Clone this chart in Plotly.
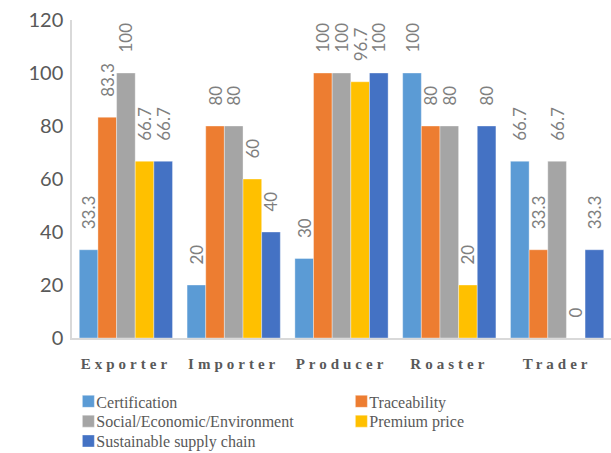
import plotly.graph_objects as go

categories = ["Exporter", "Importer", "Producer", "Roaster", "Trader"]
series_names = ["Certification", "Traceability", "Social/Economic/Environment",
                "Premium price", "Sustainable supply chain"]
certification = [33.3, 20, 30, 100, 66.7]
traceability = [83.3, 80, 100, 80, 33.3]
social = [100, 80, 100, 80, 66.7]
premium = [66.7, 60, 96.7, 20, 0]
sustainable = [66.7, 40, 100, 80, 33.3]
y_ticks = [0, 20, 40, 60, 80, 100, 120]

colors = ["#5B9BD5", "#ED7D31", "#A5A5A5", "#FFC000", "#4472C4"]
values = [certification, traceability, social, premium, sustainable]

NB = "\u00a0"
fig = go.Figure()
for name, vals, col in zip(series_names, values, colors):
    fig.add_trace(go.Bar(
        name=name, x=categories, y=vals,
        marker=dict(color=col, line=dict(width=0.6, color="rgba(255,255,255,0.6)")),
        texttemplate=NB * 4 + "%{y}",
        textposition="outside",
        textangle=-90,
        constraintext="none",
        cliponaxis=False,
        outsidetextfont=dict(family="Lato", size=17, color="#7F7F7F"),
    ))

fig.update_layout(
    width=611, height=453,
    margin=dict(l=72, r=0, t=19.5, b=114.5, autoexpand=False),
    plot_bgcolor="white", paper_bgcolor="white",
    barmode="group", bargap=0.135, bargroupgap=0,
    showlegend=True,
    legend=dict(
        orientation="h", x=-0.029, xanchor="left", y=-0.146, yanchor="top",
        font=dict(family="Liberation Serif", size=16, color="#595959"),
        entrywidth=228, entrywidthmode="pixels",
        traceorder="normal", itemclick=False,
        bgcolor="rgba(0,0,0,0)",
    ),
    xaxis=dict(
        showgrid=False, showline=True, linecolor="#D9D9D9", linewidth=1.5,
        ticks="", ticklabelstandoff=11,
        tickfont=dict(family="Liberation Serif", size=15, color="#595959", weight="bold"),
    ),
    yaxis=dict(
        range=[0, 120], tickvals=y_ticks, showgrid=False, zeroline=False,
        showline=True, linecolor="#D9D9D9", linewidth=1.5,
        ticks="", ticklabelstandoff=3,
        tickfont=dict(family="Lato", size=20, color="#595959"),
    ),
)

post = """
document.querySelectorAll('.xtick text').forEach(function(t){
  t.style.letterSpacing='4px';
});
document.querySelectorAll('.legend .legendsymbols').forEach(function(g){
  g.setAttribute('transform','translate(12,0)');
});
var tr = document.querySelectorAll('.legend .traces');
var ys = [];
tr.forEach(function(t){
  var m = /translate\\(([-\\d.]+),\\s*([-\\d.]+)\\)/.exec(t.getAttribute('transform'));
  if(m){ ys.push(parseFloat(m[2])); }
});
var y0 = Math.min.apply(null, ys);
tr.forEach(function(t){
  var m = /translate\\(([-\\d.]+),\\s*([-\\d.]+)\\)/.exec(t.getAttribute('transform'));
  if(m){
    var y = parseFloat(m[2]);
    t.setAttribute('transform','translate('+m[1]+','+(y0+(y-y0)*20/24)+')');
  }
});
"""
fig.write_html("out.html", post_script=post)
